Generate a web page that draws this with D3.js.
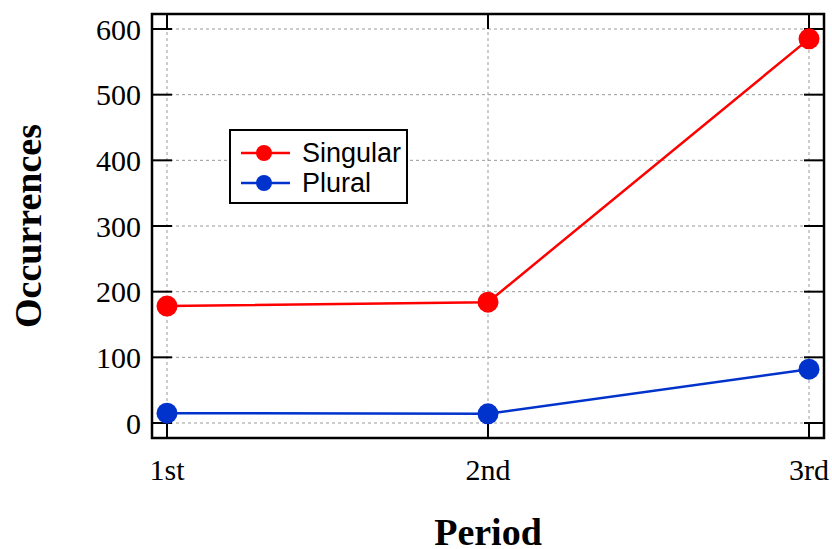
<!DOCTYPE html>
<html>
<head>
<meta charset="utf-8">
<script src="https://cdn.jsdelivr.net/npm/d3@7"></script>
<style>
  body { margin: 0; background: #fff; }
  svg { display: block; }
</style>
</head>
<body>
<svg id="chart" width="832" height="549"></svg>
<script>
var periods = ["1st", "2nd", "3rd"];
var singular = [178, 184, 585];
var plural = [15, 14, 82];
var yTicks = [0, 100, 200, 300, 400, 500, 600];

var svg = d3.select("#chart");
var plotL = 152, plotR = 824, plotT = 14, plotB = 438;
var serif = "'Liberation Serif', 'Times New Roman', serif";

var x = d3.scalePoint().domain(periods).range([167, 809]);
var y = d3.scaleLinear().domain([0, 600]).range([423, 29]);

var series = [
  {name: "Singular", values: singular, color: "#ff0000"},
  {name: "Plural", values: plural, color: "#0033cc"}
];

// grid
var grid = svg.append("g").attr("stroke", "#999").attr("stroke-width", 1).attr("stroke-dasharray", "3,3");
grid.selectAll(".gy").data(yTicks).enter().append("line")
    .attr("x1", plotL).attr("x2", plotR)
    .attr("y1", function(d) { return y(d); }).attr("y2", function(d) { return y(d); });
grid.selectAll(".gx").data(periods).enter().append("line")
    .attr("y1", plotT).attr("y2", plotB)
    .attr("x1", function(d) { return x(d); }).attr("x2", function(d) { return x(d); });

// ticks inside on all four sides
var tk = svg.append("g").attr("stroke", "#000").attr("stroke-width", 2);
yTicks.forEach(function(d) {
  tk.append("line").attr("x1", plotL).attr("x2", plotL + 20).attr("y1", y(d)).attr("y2", y(d));
  tk.append("line").attr("x1", plotR - 20).attr("x2", plotR).attr("y1", y(d)).attr("y2", y(d));
});
periods.forEach(function(d) {
  tk.append("line").attr("x1", x(d)).attr("x2", x(d)).attr("y1", plotB).attr("y2", plotB - 15);
  tk.append("line").attr("x1", x(d)).attr("x2", x(d)).attr("y1", plotT).attr("y2", plotT + 15);
});

// frame
svg.append("rect").attr("x", plotL).attr("y", plotT)
    .attr("width", plotR - plotL).attr("height", plotB - plotT)
    .attr("fill", "none").attr("stroke", "#000").attr("stroke-width", 2.5);

// tick labels
svg.selectAll(".yl").data(yTicks).enter().append("text")
    .attr("x", 141).attr("y", function(d) { return y(d); })
    .attr("dy", "0.35em").attr("text-anchor", "end")
    .style("font-family", serif).style("font-size", "30px")
    .text(function(d) { return d; });
svg.selectAll(".xl").data(periods).enter().append("text")
    .attr("x", function(d) { return x(d); }).attr("y", 480)
    .attr("text-anchor", "middle")
    .style("font-family", serif).style("font-size", "30px")
    .text(function(d) { return d; });

// axis titles
svg.append("text").attr("x", 488).attr("y", 545).attr("text-anchor", "middle")
    .style("font-family", serif).style("font-size", "38px").style("font-weight", "bold")
    .text("Period");
svg.append("text").attr("transform", "translate(41,226) rotate(-90)").attr("text-anchor", "middle")
    .style("font-family", serif).style("font-size", "38px").style("font-weight", "bold")
    .text("Occurrences");

// lines and points
var line = d3.line()
    .x(function(d, i) { return x(periods[i]); })
    .y(function(d) { return y(d); });

series.forEach(function(s) {
  svg.append("path").datum(s.values)
      .attr("d", line).attr("fill", "none")
      .attr("stroke", s.color).attr("stroke-width", 2.5);
  svg.selectAll(null).data(s.values).enter().append("circle")
      .attr("cx", function(d, i) { return x(periods[i]); })
      .attr("cy", function(d) { return y(d); })
      .attr("r", 10.5).attr("fill", s.color);
});

// legend
var lg = svg.append("g");
lg.append("rect").attr("x", 230).attr("y", 130).attr("width", 177).attr("height", 73)
    .attr("fill", "#fff").attr("stroke", "#000").attr("stroke-width", 2);
series.forEach(function(s, i) {
  var ly = 153 + i * 30;
  lg.append("line").attr("x1", 241).attr("x2", 290).attr("y1", ly).attr("y2", ly)
      .attr("stroke", s.color).attr("stroke-width", 2.5);
  lg.append("circle").attr("cx", 264).attr("cy", ly).attr("r", 8).attr("fill", s.color);
  lg.append("text").attr("x", 302).attr("y", ly).attr("dy", "0.35em")
      .style("font-family", "'Liberation Sans', Arial, sans-serif")
      .style("font-size", "27px")
      .text(s.name);
});
</script>
</body>
</html>
